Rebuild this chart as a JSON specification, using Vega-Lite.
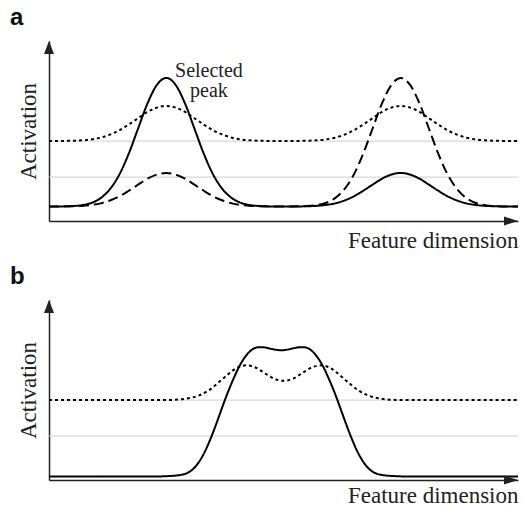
{
  "$schema": "https://vega.github.io/schema/vega-lite/v6.json",
  "background": "white",
  "padding": {"left": 10, "top": 6, "right": 0, "bottom": 0},
  "bounds": "flush",
  "spacing": 79,
  "config": {
    "view": {"stroke": null},
    "axis": {"labels": false, "ticks": false, "grid": false, "domain": true, "domainColor": "#222222", "domainWidth": 1.5,
      "titleFont": "Liberation Serif", "titleFontSize": 23, "titleFontWeight": "normal", "titleColor": "#222222"},
    "axisX": {"title": "Feature dimension", "titleAnchor": "end", "titleAlign": "right", "titleBaseline": "alphabetic", "titlePadding": 26},
    "axisY": {"title": "Activation", "titleBaseline": "alphabetic", "titlePadding": 14}
  },
  "datasets": {
    "grid": [{"y": 24.4}, {"y": 44.4}],
    "arrows": [{"x": 0, "y": 100, "dir": "up"}, {"x": 100, "y": 0, "dir": "right"}],
    "label": [{"x": 34.1, "y": 80, "text": "Selected\npeak"}],
    "a": [
      {"curve": "solid", "x": 0, "y": 8}, {"curve": "solid", "x": 5, "y": 8.3}, {"curve": "solid", "x": 7, "y": 8.8}, {"curve": "solid", "x": 9, "y": 10.0}, {"curve": "solid", "x": 11, "y": 12.7}, {"curve": "solid", "x": 13, "y": 17.7}, {"curve": "solid", "x": 15, "y": 25.8}, {"curve": "solid", "x": 17, "y": 37.4}, {"curve": "solid", "x": 19, "y": 51.4}, {"curve": "solid", "x": 21, "y": 65.3}, {"curve": "solid", "x": 23, "y": 75.6}, {"curve": "solid", "x": 25, "y": 79.5}, {"curve": "solid", "x": 27, "y": 75.6}, {"curve": "solid", "x": 29, "y": 65.3}, {"curve": "solid", "x": 31, "y": 51.4}, {"curve": "solid", "x": 33, "y": 37.4}, {"curve": "solid", "x": 35, "y": 25.8}, {"curve": "solid", "x": 37, "y": 17.7}, {"curve": "solid", "x": 39, "y": 12.7}, {"curve": "solid", "x": 41, "y": 10.0}, {"curve": "solid", "x": 43, "y": 8.8}, {"curve": "solid", "x": 45, "y": 8.3}, {"curve": "solid", "x": 50, "y": 8}, {"curve": "solid", "x": 55, "y": 8.2}, {"curve": "solid", "x": 57, "y": 8.4}, {"curve": "solid", "x": 59, "y": 8.9}, {"curve": "solid", "x": 61, "y": 9.8}, {"curve": "solid", "x": 63, "y": 11.4}, {"curve": "solid", "x": 65, "y": 13.7}, {"curve": "solid", "x": 67, "y": 16.8}, {"curve": "solid", "x": 69, "y": 20.2}, {"curve": "solid", "x": 71, "y": 23.5}, {"curve": "solid", "x": 73, "y": 25.8}, {"curve": "solid", "x": 75, "y": 26.7}, {"curve": "solid", "x": 77, "y": 25.8}, {"curve": "solid", "x": 79, "y": 23.5}, {"curve": "solid", "x": 81, "y": 20.2}, {"curve": "solid", "x": 83, "y": 16.8}, {"curve": "solid", "x": 85, "y": 13.7}, {"curve": "solid", "x": 87, "y": 11.4}, {"curve": "solid", "x": 89, "y": 9.8}, {"curve": "solid", "x": 91, "y": 8.9}, {"curve": "solid", "x": 93, "y": 8.4}, {"curve": "solid", "x": 95, "y": 8.2}, {"curve": "solid", "x": 100, "y": 8},
      {"curve": "dashed", "x": 0, "y": 8}, {"curve": "dashed", "x": 5, "y": 8.2}, {"curve": "dashed", "x": 7, "y": 8.4}, {"curve": "dashed", "x": 9, "y": 8.9}, {"curve": "dashed", "x": 11, "y": 9.8}, {"curve": "dashed", "x": 13, "y": 11.4}, {"curve": "dashed", "x": 15, "y": 13.7}, {"curve": "dashed", "x": 17, "y": 16.8}, {"curve": "dashed", "x": 19, "y": 20.2}, {"curve": "dashed", "x": 21, "y": 23.5}, {"curve": "dashed", "x": 23, "y": 25.8}, {"curve": "dashed", "x": 25, "y": 26.7}, {"curve": "dashed", "x": 27, "y": 25.8}, {"curve": "dashed", "x": 29, "y": 23.5}, {"curve": "dashed", "x": 31, "y": 20.2}, {"curve": "dashed", "x": 33, "y": 16.8}, {"curve": "dashed", "x": 35, "y": 13.7}, {"curve": "dashed", "x": 37, "y": 11.4}, {"curve": "dashed", "x": 39, "y": 9.8}, {"curve": "dashed", "x": 41, "y": 8.9}, {"curve": "dashed", "x": 43, "y": 8.4}, {"curve": "dashed", "x": 45, "y": 8.2}, {"curve": "dashed", "x": 50, "y": 8}, {"curve": "dashed", "x": 55, "y": 8.3}, {"curve": "dashed", "x": 57, "y": 8.8}, {"curve": "dashed", "x": 59, "y": 10.0}, {"curve": "dashed", "x": 61, "y": 12.7}, {"curve": "dashed", "x": 63, "y": 17.7}, {"curve": "dashed", "x": 65, "y": 25.8}, {"curve": "dashed", "x": 67, "y": 37.4}, {"curve": "dashed", "x": 69, "y": 51.4}, {"curve": "dashed", "x": 71, "y": 65.3}, {"curve": "dashed", "x": 73, "y": 75.6}, {"curve": "dashed", "x": 75, "y": 79.5}, {"curve": "dashed", "x": 77, "y": 75.6}, {"curve": "dashed", "x": 79, "y": 65.3}, {"curve": "dashed", "x": 81, "y": 51.4}, {"curve": "dashed", "x": 83, "y": 37.4}, {"curve": "dashed", "x": 85, "y": 25.8}, {"curve": "dashed", "x": 87, "y": 17.7}, {"curve": "dashed", "x": 89, "y": 12.7}, {"curve": "dashed", "x": 91, "y": 10.0}, {"curve": "dashed", "x": 93, "y": 8.8}, {"curve": "dashed", "x": 95, "y": 8.3}, {"curve": "dashed", "x": 100, "y": 8},
      {"curve": "dotted", "x": 0, "y": 44.4}, {"curve": "dotted", "x": 5, "y": 44.6}, {"curve": "dotted", "x": 7, "y": 44.8}, {"curve": "dotted", "x": 9, "y": 45.3}, {"curve": "dotted", "x": 11, "y": 46.3}, {"curve": "dotted", "x": 13, "y": 48.0}, {"curve": "dotted", "x": 15, "y": 50.4}, {"curve": "dotted", "x": 17, "y": 53.6}, {"curve": "dotted", "x": 19, "y": 57.1}, {"curve": "dotted", "x": 21, "y": 60.6}, {"curve": "dotted", "x": 23, "y": 63.0}, {"curve": "dotted", "x": 25, "y": 63.9}, {"curve": "dotted", "x": 27, "y": 63.0}, {"curve": "dotted", "x": 29, "y": 60.6}, {"curve": "dotted", "x": 31, "y": 57.1}, {"curve": "dotted", "x": 33, "y": 53.6}, {"curve": "dotted", "x": 35, "y": 50.4}, {"curve": "dotted", "x": 37, "y": 48.0}, {"curve": "dotted", "x": 39, "y": 46.3}, {"curve": "dotted", "x": 41, "y": 45.3}, {"curve": "dotted", "x": 43, "y": 44.8}, {"curve": "dotted", "x": 45, "y": 44.6}, {"curve": "dotted", "x": 50, "y": 44.4}, {"curve": "dotted", "x": 55, "y": 44.6}, {"curve": "dotted", "x": 57, "y": 44.8}, {"curve": "dotted", "x": 59, "y": 45.3}, {"curve": "dotted", "x": 61, "y": 46.3}, {"curve": "dotted", "x": 63, "y": 48.0}, {"curve": "dotted", "x": 65, "y": 50.4}, {"curve": "dotted", "x": 67, "y": 53.6}, {"curve": "dotted", "x": 69, "y": 57.1}, {"curve": "dotted", "x": 71, "y": 60.6}, {"curve": "dotted", "x": 73, "y": 63.0}, {"curve": "dotted", "x": 75, "y": 63.9}, {"curve": "dotted", "x": 77, "y": 63.0}, {"curve": "dotted", "x": 79, "y": 60.6}, {"curve": "dotted", "x": 81, "y": 57.1}, {"curve": "dotted", "x": 83, "y": 53.6}, {"curve": "dotted", "x": 85, "y": 50.4}, {"curve": "dotted", "x": 87, "y": 48.0}, {"curve": "dotted", "x": 89, "y": 46.3}, {"curve": "dotted", "x": 91, "y": 45.3}, {"curve": "dotted", "x": 93, "y": 44.8}, {"curve": "dotted", "x": 95, "y": 44.6}, {"curve": "dotted", "x": 100, "y": 44.4}
    ],
    "b": [
      {"curve": "solid", "x": 0, "y": 2.0}, {"curve": "solid", "x": 23.5, "y": 2.0}, {"curve": "solid", "x": 25.5, "y": 2.2}, {"curve": "solid", "x": 27.5, "y": 2.6}, {"curve": "solid", "x": 29.5, "y": 3.9}, {"curve": "solid", "x": 30.5, "y": 5.6}, {"curve": "solid", "x": 31.5, "y": 8.3}, {"curve": "solid", "x": 32.5, "y": 12.2}, {"curve": "solid", "x": 33.5, "y": 17.2}, {"curve": "solid", "x": 34.5, "y": 23.3}, {"curve": "solid", "x": 35.5, "y": 30.0}, {"curve": "solid", "x": 36.5, "y": 37.2}, {"curve": "solid", "x": 37.5, "y": 44.4}, {"curve": "solid", "x": 38.5, "y": 51.1}, {"curve": "solid", "x": 39.5, "y": 57.2}, {"curve": "solid", "x": 40.5, "y": 62.8}, {"curve": "solid", "x": 41.5, "y": 67.2}, {"curve": "solid", "x": 42.5, "y": 70.6}, {"curve": "solid", "x": 43.5, "y": 72.8}, {"curve": "solid", "x": 44.5, "y": 73.7}, {"curve": "solid", "x": 45.5, "y": 73.8}, {"curve": "solid", "x": 46.5, "y": 73.4}, {"curve": "solid", "x": 47.5, "y": 72.8}, {"curve": "solid", "x": 48.5, "y": 72.3}, {"curve": "solid", "x": 49.5, "y": 72.1}, {"curve": "solid", "x": 50.5, "y": 72.3}, {"curve": "solid", "x": 51.5, "y": 72.8}, {"curve": "solid", "x": 52.5, "y": 73.4}, {"curve": "solid", "x": 53.5, "y": 73.8}, {"curve": "solid", "x": 54.5, "y": 73.7}, {"curve": "solid", "x": 55.5, "y": 72.8}, {"curve": "solid", "x": 56.5, "y": 70.6}, {"curve": "solid", "x": 57.5, "y": 67.2}, {"curve": "solid", "x": 58.5, "y": 62.8}, {"curve": "solid", "x": 59.5, "y": 57.2}, {"curve": "solid", "x": 60.5, "y": 51.1}, {"curve": "solid", "x": 61.5, "y": 44.4}, {"curve": "solid", "x": 62.5, "y": 37.2}, {"curve": "solid", "x": 63.5, "y": 30.0}, {"curve": "solid", "x": 64.5, "y": 23.3}, {"curve": "solid", "x": 65.5, "y": 17.2}, {"curve": "solid", "x": 66.5, "y": 12.2}, {"curve": "solid", "x": 67.5, "y": 8.3}, {"curve": "solid", "x": 68.5, "y": 5.6}, {"curve": "solid", "x": 69.5, "y": 3.9}, {"curve": "solid", "x": 71.5, "y": 2.6}, {"curve": "solid", "x": 73.5, "y": 2.2}, {"curve": "solid", "x": 75.5, "y": 2.0}, {"curve": "solid", "x": 100, "y": 2.0},
      {"curve": "dotted", "x": 0, "y": 44.4}, {"curve": "dotted", "x": 26, "y": 44.5}, {"curve": "dotted", "x": 28, "y": 44.8}, {"curve": "dotted", "x": 30, "y": 45.5}, {"curve": "dotted", "x": 32, "y": 47.0}, {"curve": "dotted", "x": 34, "y": 49.7}, {"curve": "dotted", "x": 36, "y": 53.8}, {"curve": "dotted", "x": 38, "y": 58.3}, {"curve": "dotted", "x": 40, "y": 62.2}, {"curve": "dotted", "x": 42, "y": 63.7}, {"curve": "dotted", "x": 44, "y": 62.5}, {"curve": "dotted", "x": 46, "y": 59.4}, {"curve": "dotted", "x": 48, "y": 56.3}, {"curve": "dotted", "x": 50, "y": 55.1}, {"curve": "dotted", "x": 52, "y": 56.3}, {"curve": "dotted", "x": 54, "y": 59.4}, {"curve": "dotted", "x": 56, "y": 62.5}, {"curve": "dotted", "x": 58, "y": 63.7}, {"curve": "dotted", "x": 60, "y": 62.2}, {"curve": "dotted", "x": 62, "y": 58.3}, {"curve": "dotted", "x": 64, "y": 53.8}, {"curve": "dotted", "x": 66, "y": 49.7}, {"curve": "dotted", "x": 68, "y": 47.0}, {"curve": "dotted", "x": 70, "y": 45.5}, {"curve": "dotted", "x": 72, "y": 44.8}, {"curve": "dotted", "x": 74, "y": 44.5}, {"curve": "dotted", "x": 100, "y": 44.4}
    ]
  },
  "vconcat": [
    {
      "width": 469, "height": 180,
      "title": {"text": "a", "anchor": "start", "frame": "group", "dx": -39, "offset": -8, "baseline": "alphabetic", "fontSize": 24, "font": "Liberation Sans", "fontWeight": "bold", "color": "#111111"},
      "layer": [
        {"data": {"name": "grid"}, "mark": {"type": "rule", "color": "#cccccc", "strokeWidth": 1},
         "encoding": {"y": {"field": "y", "type": "quantitative", "scale": {"domain": [0, 100], "nice": false}, "title": "Activation"}}},
        {"data": {"name": "a"}, "mark": {"type": "line", "interpolate": "monotone", "color": "#000000"},
         "encoding": {
           "x": {"field": "x", "type": "quantitative", "scale": {"domain": [0, 100], "nice": false}, "title": "Feature dimension"},
           "y": {"field": "y", "type": "quantitative", "title": "Activation"},
           "strokeDash": {"field": "curve", "type": "nominal", "scale": {"domain": ["solid", "dashed", "dotted"], "range": [[1, 0], [10, 5], [3, 3]]}, "legend": null},
           "strokeWidth": {"field": "curve", "type": "nominal", "scale": {"domain": ["solid", "dashed", "dotted"], "range": [2, 2, 2.6]}, "legend": null}
         }},
        {"data": {"name": "arrows"}, "mark": {"type": "point", "filled": true, "color": "#222222", "opacity": 1, "size": 100},
         "encoding": {
           "x": {"field": "x", "type": "quantitative", "title": "Feature dimension"},
           "y": {"field": "y", "type": "quantitative", "title": "Activation"},
           "shape": {"field": "dir", "type": "nominal", "scale": {"domain": ["up", "right"], "range": ["M0,0L1,2.6L-1,2.6Z", "M0,0L-2.8,-0.9L-2.8,0.9Z"]}, "legend": null}
         }},
        {"data": {"name": "label"}, "mark": {"type": "text", "font": "Liberation Serif", "fontSize": 20, "lineHeight": 20, "lineBreak": "\n", "align": "center", "baseline": "alphabetic", "color": "#222222"},
         "encoding": {
           "x": {"field": "x", "type": "quantitative", "title": "Feature dimension"},
           "y": {"field": "y", "type": "quantitative", "title": "Activation"},
           "text": {"field": "text"}
         }}
      ]
    },
    {
      "width": 469, "height": 180,
      "title": {"text": "b", "anchor": "start", "frame": "group", "dx": -39, "offset": -8, "baseline": "alphabetic", "fontSize": 24, "font": "Liberation Sans", "fontWeight": "bold", "color": "#111111"},
      "layer": [
        {"data": {"name": "grid"}, "mark": {"type": "rule", "color": "#cccccc", "strokeWidth": 1},
         "encoding": {"y": {"field": "y", "type": "quantitative", "scale": {"domain": [0, 100], "nice": false}, "title": "Activation"}}},
        {"data": {"name": "b"}, "mark": {"type": "line", "interpolate": "monotone", "color": "#000000"},
         "encoding": {
           "x": {"field": "x", "type": "quantitative", "scale": {"domain": [0, 100], "nice": false}, "title": "Feature dimension", "axis": {"titlePadding": 22}},
           "y": {"field": "y", "type": "quantitative", "title": "Activation"},
           "strokeDash": {"field": "curve", "type": "nominal", "scale": {"domain": ["solid", "dashed", "dotted"], "range": [[1, 0], [10, 5], [3, 3]]}, "legend": null},
           "strokeWidth": {"field": "curve", "type": "nominal", "scale": {"domain": ["solid", "dashed", "dotted"], "range": [2, 2, 2.6]}, "legend": null}
         }},
        {"data": {"name": "arrows"}, "mark": {"type": "point", "filled": true, "color": "#222222", "opacity": 1, "size": 100},
         "encoding": {
           "x": {"field": "x", "type": "quantitative", "title": "Feature dimension", "axis": {"titlePadding": 22}},
           "y": {"field": "y", "type": "quantitative", "title": "Activation"},
           "shape": {"field": "dir", "type": "nominal", "scale": {"domain": ["up", "right"], "range": ["M0,0L1,2.6L-1,2.6Z", "M0,0L-2.8,-0.9L-2.8,0.9Z"]}, "legend": null}
         }}
      ]
    }
  ]
}
